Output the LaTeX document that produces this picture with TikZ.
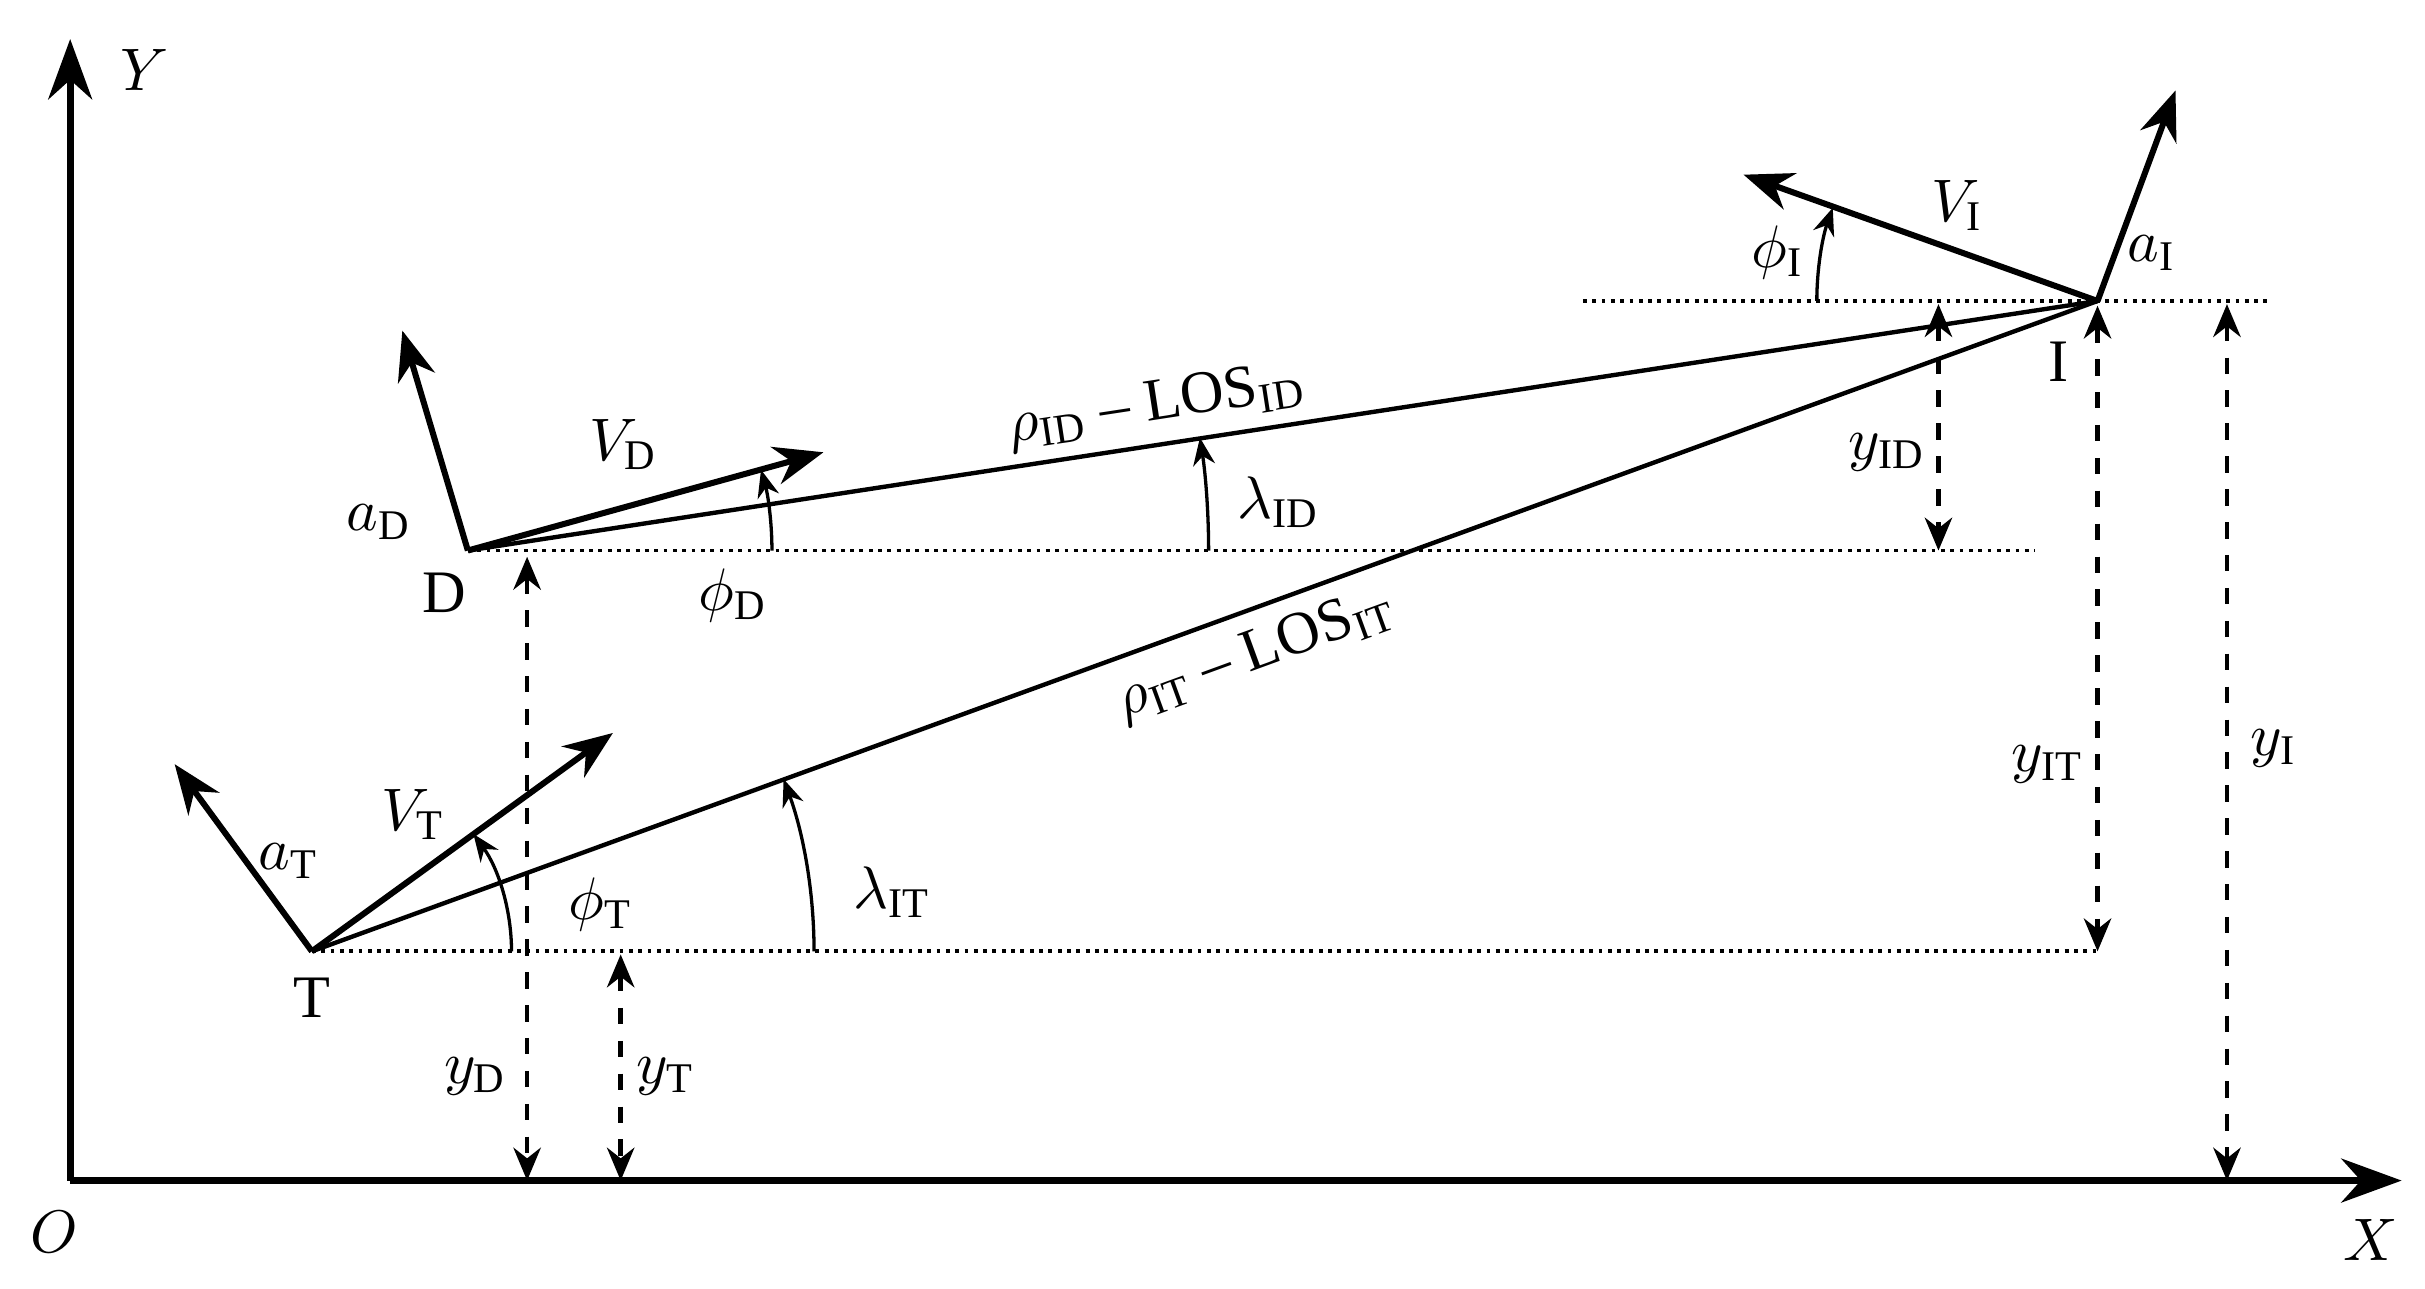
\documentclass[tikz,border=0pt]{standalone}
\usepackage{fontspec}
\setmainfont{Liberation Serif}
\usetikzlibrary{arrows.meta}
\begin{document}
\begin{tikzpicture}[x=0.01cm,y=-0.01cm,
 vec/.style={line width=1.1pt,-{Stealth[length=9pt,width=7pt]}},
 ax/.style={line width=1.3pt,-{Stealth[length=11pt,width=8pt]}},
 los/.style={line width=0.8pt},
 dots/.style={densely dotted,line width=0.7pt},
 dim/.style={dashed,line width=0.8pt,{Stealth[length=6pt,width=5pt]}-{Stealth[length=6pt,width=5pt]}},
 ang/.style={line width=0.6pt,-{Stealth[length=5pt,width=4pt]}},
 lab/.style={font=\fontsize{11}{13}\selectfont,inner sep=1pt}]
\useasboundingbox (0,0) rectangle (1555,826);
\coordinate (O) at (45,757);
\coordinate (Xe) at (1540,757);
\coordinate (Ye) at (45,25);
\coordinate (T) at (200,610);
\coordinate (D) at (300,353);
\coordinate (I) at (1345,193);
\draw[ax] (O) -- (Xe);
\draw[ax] (O) -- (Ye);
\node[lab] (lO) at (35,790) {$O$};
\node[lab] (lX) at (1520,795) {$X$};
\node[lab] (lY) at (93,45) {$Y$};
% dotted
\coordinate (Tr) at (1345,610);
\coordinate (Dr) at (1305,353);
\coordinate (Il) at (1015,193);
\coordinate (Ir) at (1455,193);
\draw[dots] (T) -- (Tr);
\draw[dots] (D) -- (Dr);
\draw[dots] (Il) -- (Ir);
% LOS
\draw[los] (D) -- (I) node[lab,pos=0.426,sloped,above=1pt] (rID) {$\rho_{\mathrm{ID}}$ -- LOS$_{\mathrm{ID}}$};
\draw[los] (T) -- (I) node[lab,pos=0.52,sloped,below=2pt] (rIT) {$\rho_{\mathrm{IT}}$ -- LOS$_{\mathrm{IT}}$};
% vectors
\coordinate (VD) at (528,290); \coordinate (aD) at (258,212);
\coordinate (VT) at (393,470); \coordinate (aT) at (112,490);
\coordinate (VI) at (1118,112); \coordinate (aI) at (1395,58);
\draw[vec] (D) -- (VD); \draw[vec] (D) -- (aD);
\draw[vec] (T) -- (VT); \draw[vec] (T) -- (aT);
\draw[vec] (I) -- (VI); \draw[vec] (I) -- (aI);
% dims
\coordinate (d1a) at (338,357); \coordinate (d1b) at (338,757);
\coordinate (d2a) at (398,612); \coordinate (d2b) at (398,757);
\coordinate (d3a) at (1243,195); \coordinate (d3b) at (1243,353);
\coordinate (d4a) at (1345,196); \coordinate (d4b) at (1345,610);
\coordinate (d5a) at (1428,195); \coordinate (d5b) at (1428,757);
\draw[dim] (d1a) -- (d1b);
\draw[dim] (d2a) -- (d2b);
\draw[dim] (d3a) -- (d3b);
\draw[dim] (d4a) -- (d4b);
\draw[dim] (d5a) -- (d5b);
% angle arcs
\draw[ang] (D) ++(0:195) arc[start angle=0,end angle=-15.4,radius=195];
\draw[ang] (D) ++(0:475) arc[start angle=0,end angle=-8.76,radius=475];
\draw[ang] (T) ++(0:128) arc[start angle=0,end angle=-36,radius=128];
\draw[ang] (T) ++(0:322) arc[start angle=0,end angle=-20.06,radius=322];
\draw[ang] (I) ++(-180:180) arc[start angle=-180,end angle=-160.6,radius=180];
% labels
\node[lab] (lT) at (200,640) {T};
\node[lab] (lD) at (285,380) {D};
\node[lab] (lI) at (1320,232) {I};
\node[lab] (lVD) at (400,285) {$V_{\mathrm{D}}$};
\node[lab] (laD) at (243,335) {$a_{\mathrm{D}}$};
\node[lab] (lVT) at (265,522) {$V_{\mathrm{T}}$};
\node[lab] (laT) at (185,552) {$a_{\mathrm{T}}$};
\node[lab] (lVI) at (1255,132) {$V_{\mathrm{I}}$};
\node[lab] (laI) at (1380,162) {$a_{\mathrm{I}}$};
\node[lab] (lpD) at (470,382) {$\phi_{\mathrm{D}}$};
\node[lab] (lpT) at (385,580) {$\phi_{\mathrm{T}}$};
\node[lab] (lpI) at (1140,162) {$\phi_{\mathrm{I}}$};
\node[lab] (llID) at (820,322) {$\lambda_{\mathrm{ID}}$};
\node[lab] (llIT) at (572,572) {$\lambda_{\mathrm{IT}}$};
\node[lab] (lyD) at (305,690) {$y_{\mathrm{D}}$};
\node[lab] (lyT) at (427,690) {$y_{\mathrm{T}}$};
\node[lab] (lyID) at (1210,290) {$y_{\mathrm{ID}}$};
\node[lab] (lyIT) at (1313,490) {$y_{\mathrm{IT}}$};
\node[lab] (lyI) at (1458,480) {$y_{\mathrm{I}}$};
\end{tikzpicture}
\end{document}
